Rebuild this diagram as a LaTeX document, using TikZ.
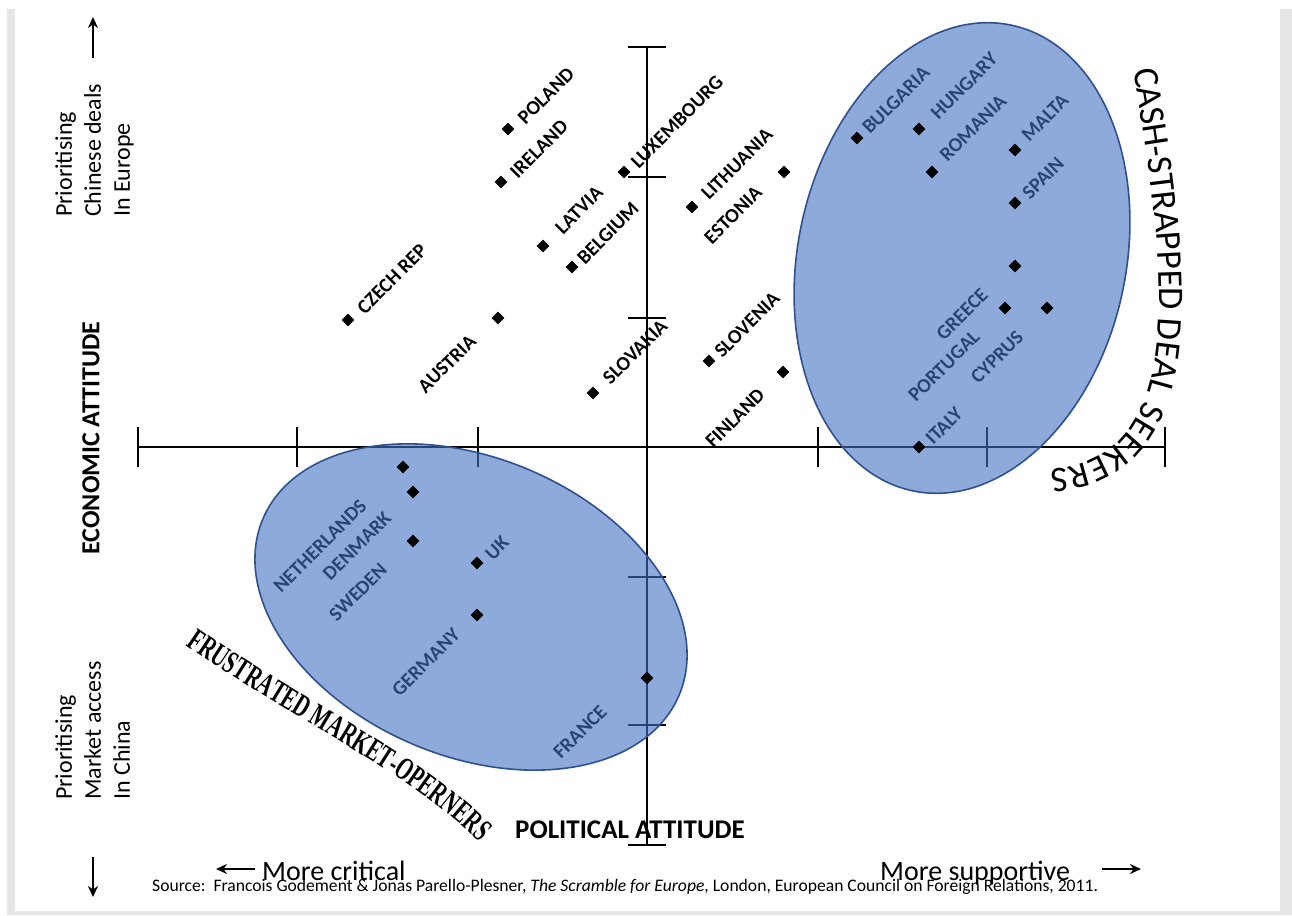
\documentclass[tikz,border=0pt]{standalone}
\usepackage{fontspec}
\setmainfont{Carlito}
\newfontfamily\condserif{Liberation Serif}[FakeStretch=0.64]
\usetikzlibrary{shapes.geometric,decorations.text,arrows.meta}
\definecolor{ellfill}{HTML}{4472C4}
\definecolor{ellline}{HTML}{2F528F}
\definecolor{framegrey}{HTML}{E6E6E6}
\begin{document}
\begin{tikzpicture}[x=1pt,y=-1pt,
  axisline/.style={line width=2.4pt, black},
  dia/.style={diamond, fill=black, inner sep=0pt, minimum width=13pt, minimum height=13pt},
  clab/.style={font=\bfseries\fontsize{20}{20}\selectfont, rotate=45, inner sep=0pt},
  grp/.style={fill=ellfill, fill opacity=0.6, draw=ellline, draw opacity=1, line width=1.6pt},
  sidelab/.style={font=\fontsize{24}{29}\selectfont, rotate=90, align=left, inner sep=0pt, anchor=north west},
  bigarrow/.style={line width=2pt, -{Stealth[length=11pt,width=10pt]}}
]
\useasboundingbox (0,0) rectangle (1292,915);
\fill[white] (0,0) rectangle (1292,915);
\fill[framegrey] (7,9) rectangle (1292,915);
\fill[white] (15,0) rectangle (1280,911);

% axes
\coordinate (hL) at (138,447); \coordinate (hR) at (1165,447);
\coordinate (vT) at (647,47);  \coordinate (vB) at (647,845);
\draw[axisline] (hL) -- (hR);
\draw[axisline] (vT) -- (vB);
\foreach \x in {138,297,478,818,987,1165} \draw[axisline] (\x,427) -- (\x,467);
\foreach \y in {47,177,318,577,725,845} \draw[axisline] (628,\y) -- (666,\y);

% country labels
\node[clab] (lPL) at (546,96) {POLAND};
\node[clab] (lIE) at (539,149) {IRELAND};
\node[clab] (lLU) at (677,122) {LUXEMBOURG};
\node[clab] (lLV) at (579,210) {LATVIA};
\node[clab] (lBE) at (608,233) {BELGIUM};
\node[clab] (lLT) at (737,164) {LITHUANIA};
\node[clab] (lEE) at (733,215) {ESTONIA};
\node[clab] (lCZ) at (392,279) {CZECH REP};
\node[clab] (lAT) at (447,364) {AUSTRIA};
\node[clab] (lSK) at (635,352) {SLOVAKIA};
\node[clab] (lSI) at (747,325) {SLOVENIA};
\node[clab] (lFI) at (735,418) {FINLAND};
\node[clab] (lBG) at (896,100) {BULGARIA};
\node[clab] (lHU) at (964,86) {HUNGARY};
\node[clab] (lRO) at (973,128) {ROMANIA};
\node[clab] (lMT) at (1045,118) {MALTA};
\node[clab] (lES) at (1043,178) {SPAIN};
\node[clab] (lGR) at (962,314) {GREECE};
\node[clab] (lPT) at (944,366) {PORTUGAL};
\node[clab] (lCY) at (997,357) {CYPRUS};
\node[clab] (lIT) at (944,426) {ITALY};
\node[clab] (lNL) at (320,546) {NETHERLANDS};
\node[clab] (lDK) at (357,546) {DENMARK};
\node[clab] (lSE) at (358,592) {SWEDEN};
\node[clab] (lUK) at (497,548) {UK};
\node[clab] (lDE) at (426,662) {GERMANY};
\node[clab] (lFR) at (580,732) {FRANCE};

% groups
\draw[grp, rotate around={-12:(962,258)}] (962,258) ellipse [x radius=164, y radius=238];
\draw[grp, rotate around={-23:(471,607)}] (471,607) ellipse [x radius=226, y radius=149];

% markers
\node[dia] (dPL) at (508,129) {};
\node[dia] (dIE) at (501,182) {};
\node[dia] (dLU) at (624,172) {};
\node[dia] (dLV) at (543,246) {};
\node[dia] (dBE) at (572,267) {};
\node[dia] (dLT) at (692,207) {};
\node[dia] (dEE) at (784,172) {};
\node[dia] (dCZ) at (348,320) {};
\node[dia] (dAT) at (498,318) {};
\node[dia] (dSK) at (593,393) {};
\node[dia] (dSI) at (709,361) {};
\node[dia] (dFI) at (783,372) {};
\node[dia] (dBG) at (857,138) {};
\node[dia] (dHU) at (919,129) {};
\node[dia] (dRO) at (932,172) {};
\node[dia] (dMT) at (1015,150) {};
\node[dia] (dES) at (1015,203) {};
\node[dia] (dPT) at (1015,266) {};
\node[dia] (dGR) at (1005,308) {};
\node[dia] (dCY) at (1047,308) {};
\node[dia] (dIT) at (919,447) {};
\node[dia] (dNL) at (403,467) {};
\node[dia] (dDK) at (413,492) {};
\node[dia] (dSE) at (413,541) {};
\node[dia] (dUK) at (477,563) {};
\node[dia] (dDE) at (477,615) {};
\node[dia] (dFR) at (647,678) {};

% curved group titles
\path[decorate, decoration={text along path, text align=left,
  text={|\condserif\bfseries\fontsize{32}{32}\selectfont|FRUSTRATED MARKET-OPERNERS}}]
  (186,645) .. controls (300,725) and (430,780) .. (500,865);
\path[decorate, decoration={text along path, text align=left,
  text={|\fontsize{36}{36}\selectfont|CASH-STRAPPED DEAL SEEKERS}}]
  (1133,70) .. controls (1180,330) and (1172,472) .. (1035,470);

% axis titles
\node[font=\bfseries\fontsize{26}{26}\selectfont, rotate=90, inner sep=0pt] (econ) at (91,438) {ECONOMIC ATTITUDE};
\node[font=\bfseries\fontsize{27}{27}\selectfont, inner sep=0pt] (pol) at (630,830) {POLITICAL ATTITUDE};

% side texts
\node[sidelab] (topside) at (55,217) {Prioritising\\Chinese deals\\In Europe};
\node[sidelab] (botside) at (55,800) {Prioritising\\Market access\\In China};
\coordinate (upA) at (93,58); \coordinate (upB) at (93,17);
\draw[bigarrow] (upA) -- (upB);
\coordinate (dnA) at (93,857); \coordinate (dnB) at (93,897);
\draw[bigarrow] (dnA) -- (dnB);

% bottom texts
\node[font=\fontsize{28}{28}\selectfont, inner sep=0pt, anchor=base west] (crit) at (262,880) {More critical};
\node[font=\fontsize{28}{28}\selectfont, inner sep=0pt, anchor=base west] (supp) at (880,880) {More supportive};
\coordinate (lA) at (255,869); \coordinate (lB) at (216,869);
\draw[bigarrow] (lA) -- (lB);
\coordinate (rA) at (1102,869); \coordinate (rB) at (1141,869);
\draw[bigarrow] (rA) -- (rB);
\node[font=\fontsize{17.6}{17.6}\selectfont, inner sep=0pt, anchor=base west] (src) at (152,891)
  {Source:\ \ Francois Godement \& Jonas Parello-Plesner, \textit{The Scramble for Europe}, London, European Council on Foreign Relations, 2011.};
\end{tikzpicture}
\end{document}
